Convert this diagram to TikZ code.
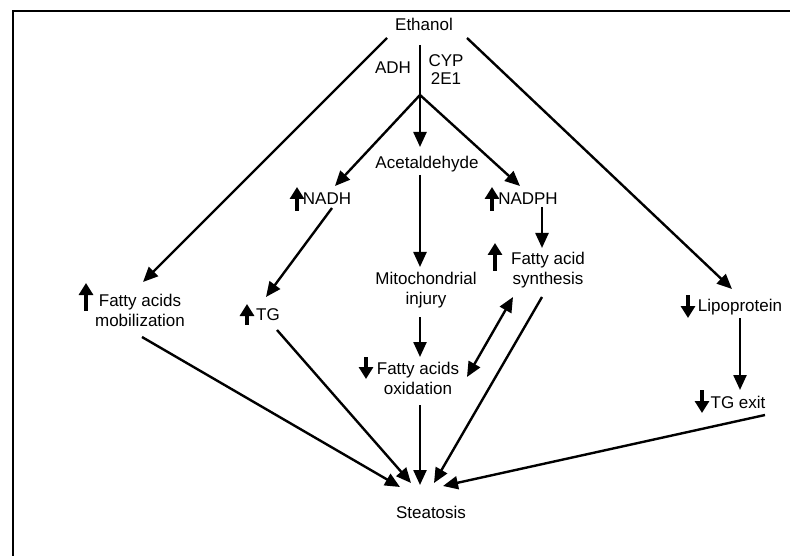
\documentclass[tikz,border=0pt]{standalone}
\usepackage{fontspec}
\setmainfont{Liberation Sans}
\usetikzlibrary{arrows.meta}
\begin{document}
\begin{tikzpicture}[x=1pt,y=-1pt,
 lbl/.style={inner sep=0pt, align=center, font=\fontsize{17}{20}\selectfont},
 arr/.style={line width=2.4pt, -{Triangle[length=15pt,width=13pt]}},
 darr/.style={line width=2.4pt, {Triangle[length=15pt,width=13pt]}-{Triangle[length=15pt,width=13pt]}},
 ln/.style={line width=2.4pt},
 ind/.style={line width=3.6pt, -{Triangle[length=12pt,width=14pt]}}]
\useasboundingbox (0,0) rectangle (790,556);
\draw[line width=2.4pt] (13,556) -- (13,11) -- (790,11);
% nodes
\node[lbl] (eth) at (424,24) {Ethanol};
\node[lbl] (adh) at (393,68) {ADH};
\node[lbl, font=\fontsize{17}{18}\selectfont] (cyp) at (446,70) {CYP\\2E1};
\node[lbl] (acet) at (427,164) {Acetaldehyde};
\node[lbl] (nadh) at (327,199) {NADH};
\node[lbl] (nadph) at (528,199) {NADPH};
\node[lbl] (mito) at (426,290) {Mitochondrial\\injury};
\node[lbl] (fas) at (548,270) {Fatty acid\\synthesis};
\node[lbl] (oxid) at (418,378) {Fatty acids\\oxidation};
\node[lbl] (mob) at (140,310) {Fatty acids\\mobilization};
\node[lbl] (tg) at (268,315) {TG};
\node[lbl] (lip) at (740,307) {Lipoprotein};
\node[lbl] (tgx) at (738,402) {TG exit};
\node[lbl] (ste) at (431,512) {Steatosis};
% endpoints
\coordinate (e0) at (420,45);
\coordinate (j) at (420,95);
\coordinate (eL) at (387,38);
\coordinate (eR) at (467,38);
\coordinate (mobIn) at (143,282);
\coordinate (lipIn) at (732,289);
\coordinate (acetIn) at (420,147);
\coordinate (nadhIn) at (335,186);
\coordinate (nadphIn) at (520,186);
\coordinate (acetOut) at (420,175);
\coordinate (mitoIn) at (420,267);
\coordinate (mitoOut) at (420,317);
\coordinate (oxidIn) at (420,357);
\coordinate (nadhOut) at (332,208);
\coordinate (tgIn) at (266,297);
\coordinate (nadphOut) at (542,207);
\coordinate (fasIn) at (542,248);
\coordinate (fasA) at (513,297);
\coordinate (oxidA) at (467,377);
\coordinate (lipOut) at (740,318);
\coordinate (tgxIn) at (740,390);
\coordinate (mobOut) at (142,337);
\coordinate (tgOut) at (277,330);
\coordinate (oxidOut) at (420,405);
\coordinate (fasOut) at (542,297);
\coordinate (tgxOut) at (765,415);
\coordinate (s1) at (400,487);
\coordinate (s2) at (411,483);
\coordinate (s3) at (420,485);
\coordinate (s4) at (434,483);
\coordinate (s5) at (443,486);
% connectors
\draw[ln] (e0) -- (j);
\draw[arr] (j) -- (acetIn);
\draw[arr] (j) -- (nadhIn);
\draw[arr] (j) -- (nadphIn);
\draw[arr] (eL) -- (mobIn);
\draw[arr] (eR) -- (lipIn);
\draw[arr] (acetOut) -- (mitoIn);
\draw[arr] (mitoOut) -- (oxidIn);
\draw[arr] (nadhOut) -- (tgIn);
\draw[arr] (nadphOut) -- (fasIn);
\draw[darr] (fasA) -- (oxidA);
\draw[arr] (lipOut) -- (tgxIn);
\draw[arr] (mobOut) -- (s1);
\draw[arr] (tgOut) -- (s2);
\draw[arr] (oxidOut) -- (s3);
\draw[arr] (fasOut) -- (s4);
\draw[arr] (tgxOut) -- (s5);
% up/down indicators
\draw[ind] (86,311) -- (86,283);
\draw[ind] (297,211) -- (297,187);
\draw[ind] (492,211) -- (492,187);
\draw[ind] (247,325) -- (247,304);
\draw[ind] (495,271) -- (495,243);
\draw[ind] (366,357) -- (366,379);
\draw[ind] (688,295) -- (688,318);
\draw[ind] (702,390) -- (702,413);
\end{tikzpicture}
\end{document}
